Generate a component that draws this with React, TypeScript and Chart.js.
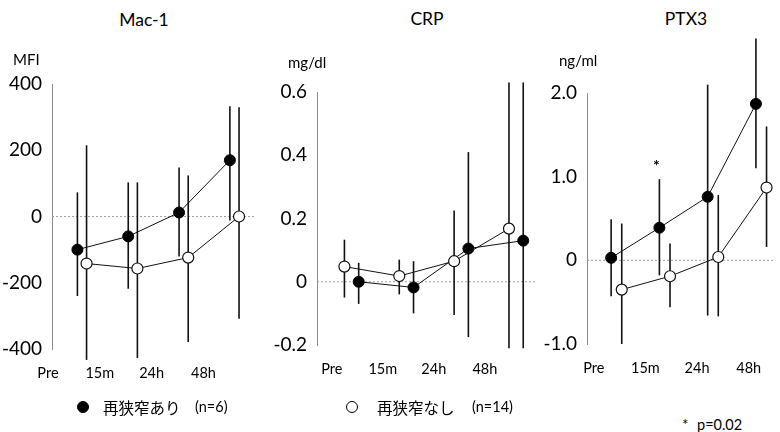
import React, { useEffect, useRef } from 'react';
import { Chart, registerables } from 'chart.js';

Chart.register(...registerables);

// ---------- data ----------
const timeLabels = ['Pre', '15m', '24h', '48h'];

// Mac-1 (MFI)
const macWith = [-100, -60, 12, 170];
const macWithHi = [73, 103, 148, 333];
const macWithLo = [-240, -218, -121, -12];
const macWithout = [-142, -157, -124, 0];
const macWithoutHi = [215, 103, 124, 330];
const macWithoutLo = [-433, -427, -379, -309];

// CRP (mg/dl)
const crpWith = [0, -0.018, 0.105, 0.13];
const crpWithHi = [0.06, 0.065, 0.41, 0.63];
const crpWithLo = [-0.07, -0.1, -0.175, -0.21];
const crpWithout = [0.048, 0.018, 0.065, 0.168];
const crpWithoutHi = [0.133, 0.07, 0.225, 0.63];
const crpWithoutLo = [-0.05, -0.04, -0.105, -0.21];

// PTX3 (ng/ml)
const ptxWith = [0.03, 0.39, 0.76, 1.87];
const ptxWithHi = [0.49, 0.97, 2.1, 2.65];
const ptxWithLo = [-0.43, -0.18, -0.66, 1.1];
const ptxWithout = [-0.35, -0.19, 0.04, 0.87];
const ptxWithoutHi = [0.44, 0.2, 0.78, 1.6];
const ptxWithoutLo = [-1.0, -0.56, -0.67, 0.16];

const legendWith = '再狭窄あり';
const legendWithN = '(n=6)';
const legendWithout = '再狭窄なし';
const legendWithoutN = '(n=14)';
const pNote = 'p=0.02';

// ---------- layout ----------
const FONT = "Lato, 'Noto Sans', 'DejaVu Sans', sans-serif";
const CJK = "'Noto Sans CJK JP', 'Noto Sans', sans-serif";
const CANVAS_TOP = 30;
const CANVAS_H = 372;
const X_AXIS_H = 40;

type PanelCfg = {
  title: string; unit: string;
  left: number; width: number; areaLeft: number; areaRight: number; areaTop: number; areaBottom: number;
  yMin: number; yMax: number; yStep: number; xMax: number;
  fmt: (v: number) => string;
  labelStart: number; labelStep: number; withOffset: number; withoutOffset: number;
  withVals: number[]; withHi: number[]; withLo: number[];
  withoutVals: number[]; withoutHi: number[]; withoutLo: number[];
  titleX: number; titleY: number; unitX: number; unitY: number;
  star?: number;
};

const fmtInt = (v: number) => String(Math.round(v));
const fmtDec = (v: number) => (Math.abs(v) < 1e-9 ? '0' : v.toFixed(1));

const panels: PanelCfg[] = [
  {
    title: 'Mac-1', unit: 'MFI',
    left: 0, width: 262, areaLeft: 52, areaRight: 258, areaTop: 84, areaBottom: 349,
    yMin: -400, yMax: 400, yStep: 200, xMax: 4, fmt: fmtInt,
    labelStart: -0.08, labelStep: 1.02, withOffset: 0.5, withoutOffset: 0.68,
    withVals: macWith, withHi: macWithHi, withLo: macWithLo,
    withoutVals: macWithout, withoutHi: macWithoutHi, withoutLo: macWithoutLo,
    titleX: 144, titleY: 20, unitX: 13, unitY: 59,
  },
  {
    title: 'CRP', unit: 'mg/dl',
    left: 262, width: 280, areaLeft: 317, areaRight: 540, areaTop: 92, areaBottom: 345,
    yMin: -0.2, yMax: 0.6, yStep: 0.2, xMax: 3.98, fmt: fmtDec,
    labelStart: 0.27, labelStep: 0.93, withOffset: 0.76, withoutOffset: 0.5,
    withVals: crpWith, withHi: crpWithHi, withLo: crpWithLo,
    withoutVals: crpWithout, withoutHi: crpWithoutHi, withoutLo: crpWithoutLo,
    titleX: 427, titleY: 19, unitX: 288, unitY: 62,
  },
  {
    title: 'PTX3', unit: 'ng/ml',
    left: 542, width: 238, areaLeft: 587, areaRight: 780, areaTop: 93, areaBottom: 344,
    yMin: -1, yMax: 2, yStep: 1, xMax: 3.86, fmt: fmtDec,
    labelStart: 0.14, labelStep: 1.07, withOffset: 0.5, withoutOffset: 0.72,
    withVals: ptxWith, withHi: ptxWithHi, withLo: ptxWithLo,
    withoutVals: ptxWithout, withoutHi: ptxWithoutHi, withoutLo: ptxWithoutLo,
    titleX: 686, titleY: 19, unitX: 559, unitY: 60,
    star: 1,
  },
];

function Panel({ cfg }: { cfg: PanelCfg }) {
  const ref = useRef<HTMLCanvasElement | null>(null);
  useEffect(() => {
    if (!ref.current) return;
    const errPlugin = {
      id: 'errBars',
      beforeDatasetsDraw(chart: any) {
        const { ctx, chartArea, scales } = chart;
        const y = scales.y;
        const y0 = y.getPixelForValue(0);
        ctx.save();
        ctx.strokeStyle = '#a0a0a0';
        ctx.lineWidth = 1;
        ctx.setLineDash([2, 2]);
        ctx.beginPath();
        ctx.moveTo(chartArea.left, y0);
        ctx.lineTo(chartArea.right, y0);
        ctx.stroke();
        ctx.setLineDash([]);
        chart.data.datasets.forEach((ds: any, di: number) => {
          const meta = chart.getDatasetMeta(di);
          ds.errHi.forEach((hi: number, i: number) => {
            const px = meta.data[i].x;
            ctx.strokeStyle = '#111';
            ctx.lineWidth = 1.6;
            ctx.beginPath();
            ctx.moveTo(px, y.getPixelForValue(hi));
            ctx.lineTo(px, y.getPixelForValue(ds.errLo[i]));
            ctx.stroke();
          });
        });
        ctx.restore();
      },
      afterDatasetsDraw(chart: any) {
        if (cfg.star === undefined) return;
        const { ctx, scales } = chart;
        const di = chart.data.datasets.findIndex((d: any) => d.key === 'with');
        const meta = chart.getDatasetMeta(di);
        const pt = meta.data[cfg.star];
        const ds = chart.data.datasets[di];
        ctx.save();
        ctx.fillStyle = '#000';
        ctx.font = `bold 16px ${FONT}`;
        ctx.textAlign = 'center';
        ctx.textBaseline = 'middle';
        ctx.fillText('*', pt.x - 3, scales.y.getPixelForValue(ds.errHi[cfg.star]) - 13);
        ctx.restore();
      },
    };

    const mk = (vals: number[], off: number) => vals.map((v, i) => ({ x: i + off, y: v }));

    const chart = new Chart(ref.current, {
      type: 'line',
      data: {
        datasets: [
          {
            key: 'without',
            label: legendWithout,
            data: mk(cfg.withoutVals, cfg.withoutOffset),
            errHi: cfg.withoutHi, errLo: cfg.withoutLo,
            borderColor: '#111', borderWidth: 1,
            pointRadius: 5.5, pointBackgroundColor: '#fff', pointBorderColor: '#111', pointBorderWidth: 1.2,
            clip: false, tension: 0,
          } as any,
          {
            key: 'with',
            label: legendWith,
            data: mk(cfg.withVals, cfg.withOffset),
            errHi: cfg.withHi, errLo: cfg.withLo,
            borderColor: '#111', borderWidth: 1,
            pointRadius: 5.5, pointBackgroundColor: '#000', pointBorderColor: '#000', pointBorderWidth: 1,
            clip: false, tension: 0,
          } as any,
        ],
      },
      options: {
        animation: false,
        responsive: false,
        devicePixelRatio: 1,
        events: [],
        layout: {
          padding: {
            left: 0,
            top: cfg.areaTop - CANVAS_TOP,
            right: cfg.left + cfg.width - cfg.areaRight,
            bottom: CANVAS_TOP + CANVAS_H - cfg.areaBottom - X_AXIS_H,
          },
        },
        plugins: { legend: { display: false }, tooltip: { enabled: false }, title: { display: false } },
        scales: {
          x: {
            type: 'linear',
            min: 0,
            max: cfg.xMax,
            grid: { display: false, drawTicks: false },
            border: { display: false },
            afterBuildTicks: (scale: any) => {
              scale.ticks = timeLabels.map((_, i) => ({ value: cfg.labelStart + i * cfg.labelStep }));
            },
            afterFit: (scale: any) => { scale.height = X_AXIS_H; },
            ticks: {
              autoSkip: false,
              maxRotation: 0,
              padding: 16,
              color: '#000',
              font: { family: FONT, size: 14.5 },
              callback: (_v: any, i: number) => timeLabels[i],
            },
          },
          y: {
            type: 'linear',
            min: cfg.yMin,
            max: cfg.yMax,
            grid: { display: true, drawTicks: false, color: 'rgba(0,0,0,0)' },
            border: { display: true, color: '#8a8a8a', width: 1 },
            afterFit: (scale: any) => { scale.width = cfg.areaLeft - cfg.left; },
            ticks: {
              stepSize: cfg.yStep,
              padding: 10,
              color: '#000',
              font: { family: FONT, size: 19 },
              callback: (v: any) => cfg.fmt(Number(v)),
            },
          },
        },
      } as any,
      plugins: [errPlugin],
    });
    return () => chart.destroy();
  }, [cfg]);

  return (
    <>
      <canvas
        ref={ref}
        width={cfg.width}
        height={CANVAS_H}
        style={{ position: 'absolute', left: cfg.left, top: CANVAS_TOP, width: cfg.width, height: CANVAS_H }}
      />
      <div style={{ position: 'absolute', left: cfg.titleX, top: cfg.titleY - 10, lineHeight: '20px', transform: 'translateX(-50%)', fontFamily: FONT, fontSize: 17.5, color: '#000', whiteSpace: 'nowrap' }}>
        {cfg.title}
      </div>
      <div style={{ position: 'absolute', left: cfg.unitX, top: cfg.unitY - 9, lineHeight: '18px', fontFamily: FONT, fontSize: 15, color: '#000', whiteSpace: 'nowrap' }}>
        {cfg.unit}
      </div>
    </>
  );
}

export default function App() {
  const dot = (filled: boolean, x: number, y: number) => (
    <div style={{ position: 'absolute', left: x - 6, top: y - 6, width: 12, height: 12, boxSizing: 'border-box', borderRadius: '50%', background: filled ? '#000' : '#fff', border: '1.2px solid #000' }} />
  );
  const txt = (s: string, x: number, y: number, fam: string, size: number) => (
    <div style={{ position: 'absolute', left: x, top: y - 10, lineHeight: '20px', fontFamily: fam, fontSize: size, color: '#000', whiteSpace: 'nowrap' }}>{s}</div>
  );
  return (
    <div style={{ position: 'absolute', left: 0, top: 0, width: 780, height: 432, overflow: 'hidden', background: '#fff' }}>
      {panels.map((p) => <Panel key={p.title} cfg={p} />)}
      {dot(true, 83, 407)}
      {txt(legendWith, 103, 407, CJK, 15.5)}
      {txt(legendWithN, 195, 407, FONT, 14.5)}
      {dot(false, 352, 407)}
      {txt(legendWithout, 377, 407, CJK, 15.5)}
      {txt(legendWithoutN, 472, 407, FONT, 14.5)}
      {txt('*', 682, 424, FONT, 15)}
      {txt(pNote, 697, 425, FONT, 14.5)}
    </div>
  );
}
